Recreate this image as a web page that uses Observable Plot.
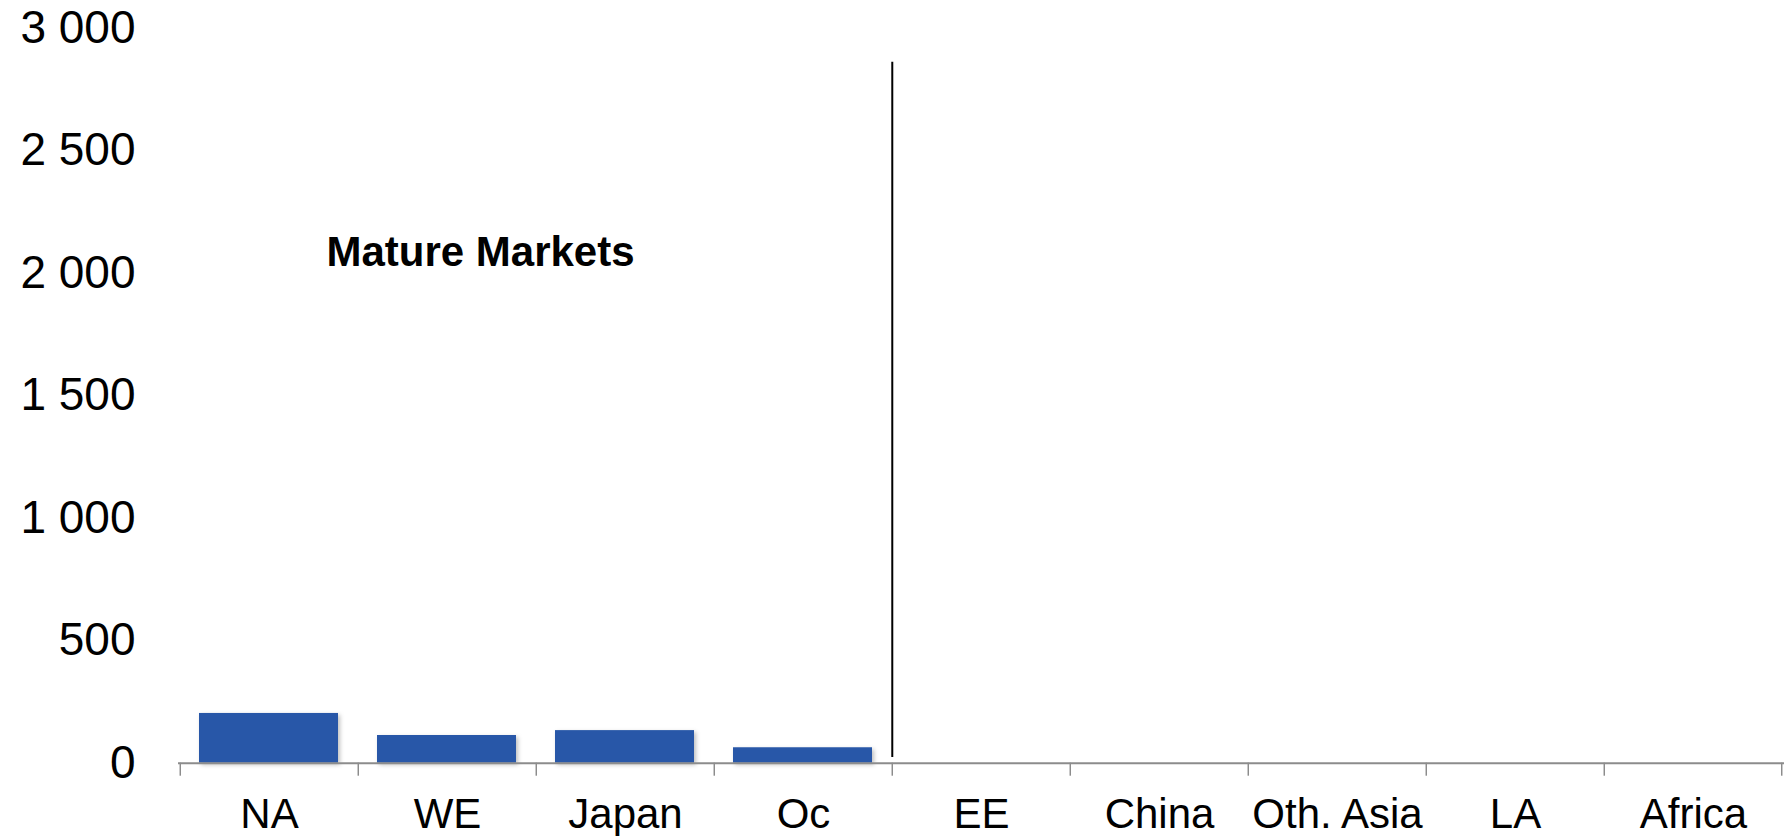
<!DOCTYPE html>
<html>
<head>
<meta charset="utf-8">
<script src="https://cdn.jsdelivr.net/npm/d3@7"></script>
<script src="https://cdn.jsdelivr.net/npm/@observablehq/plot@0.6"></script>
<style>
  html, body { margin: 0; padding: 0; background: #fff; }
  #chart svg { display: block; font-family: "Liberation Sans", Arial, sans-serif; }
</style>
</head>
<body>
<div id="chart"></div>
<script>
const regions = ["NA", "WE", "Japan", "Oc", "EE", "China", "Oth. Asia", "LA", "Africa"];
const values = [203, 113, 133, 63, 0, 0, 0, 0, 0];
const yTicks = [0, 500, 1000, 1500, 2000, 2500, 3000];
const annotationText = "Mature Markets";
const annotationAt = {region: "WE", value: 2030};
const dividerBefore = "EE";
const dividerRange = [23, 2860];

const data = regions.map((r, i) => ({region: r, value: values[i]}));

const W = 1785, H = 836;
const mL = 178, mR = 1, mT = 27.5, mB = 73.3;
const band = (W - mL - mR) / regions.length;

const fmt = d => d3.format(",")(d).replace(/,/g, " ");

const plot = Plot.plot({
  width: W,
  height: H,
  marginLeft: mL,
  marginRight: mR,
  marginTop: mT,
  marginBottom: mB,
  style: {fontFamily: "'Liberation Sans', Arial, sans-serif", background: "#fff", color: "#000", overflow: "visible"},
  x: {domain: regions, padding: 0, label: null},
  y: {domain: [0, 3000], label: null},
  marks: [
    Plot.barY(data, {
      x: "region", y: "value", fill: "#2857A8",
      insetLeft: 19, insetRight: 20,
      imageFilter: "drop-shadow(2px 2px 2px rgba(0,0,0,0.25))"
    }),
    Plot.ruleY([0], {stroke: "#8c8c8c", strokeWidth: 2}),
    Plot.ruleX(regions, {x: d => d, y1: 0, y2: 0, insetBottom: -13, dx: -band / 2, stroke: "#8c8c8c", strokeWidth: 1.5}),
    Plot.ruleX([regions[regions.length - 1]], {x: d => d, y1: 0, y2: 0, insetBottom: -13, dx: band / 2 - 1, stroke: "#8c8c8c", strokeWidth: 1.5}),
    Plot.ruleX([dividerBefore], {x: d => d, y1: dividerRange[0], y2: dividerRange[1], dx: -band / 2, stroke: "#000", strokeWidth: 2}),
    Plot.text([annotationAt], {
      x: "region", y: "value", dx: 33, text: () => annotationText,
      fontSize: 42, fontWeight: "bold", fill: "#000", textAnchor: "middle", lineAnchor: "bottom"
    }),
    Plot.axisY(yTicks, {tickSize: 0, tickPadding: 43, fontSize: 46, tickFormat: fmt, label: null}),
    Plot.axisX({tickSize: 0, tickPadding: 35, fontSize: 42, label: null})
  ]
});
document.getElementById("chart").appendChild(plot);
</script>
</body>
</html>
